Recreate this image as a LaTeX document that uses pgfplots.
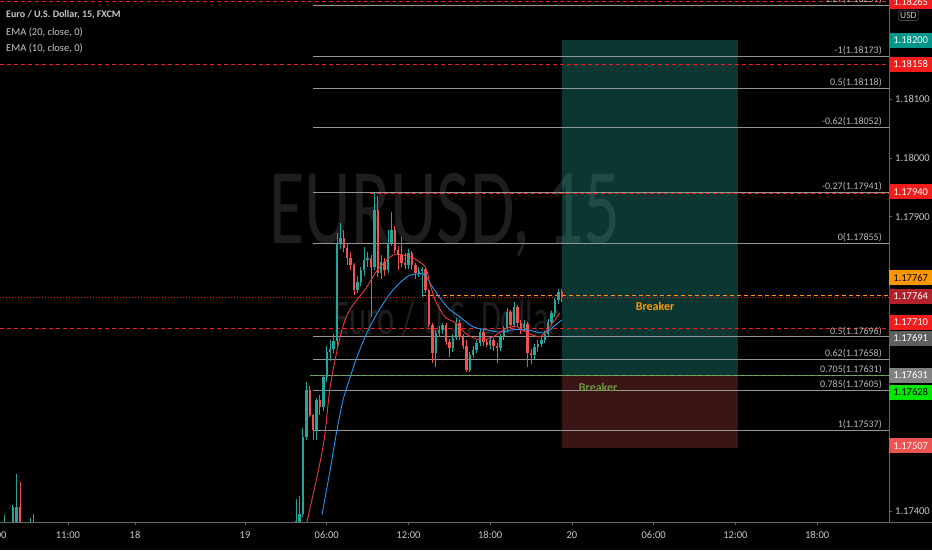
\documentclass[border=0pt]{standalone}
\usepackage{pgfplots}
\pgfplotsset{compat=1.18}
\usepackage{pgfplotstable}
\usepackage{fontspec}
\setmainfont{Carlito}

\definecolor{upc}{RGB}{38,166,154}
\definecolor{dnc}{RGB}{239,83,80}
\definecolor{ema10}{RGB}{235,60,60}
\definecolor{ema20}{RGB}{33,150,243}
\definecolor{fibc}{RGB}{150,150,150}
\definecolor{fibtxt}{RGB}{185,185,185}
\definecolor{tvred}{RGB}{242,28,28}
\definecolor{tvdred}{RGB}{178,34,44}
\definecolor{tvcoral}{RGB}{240,82,82}
\definecolor{tvteal}{RGB}{0,150,136}
\definecolor{tvorange}{RGB}{255,152,0}
\definecolor{tvgreen}{RGB}{0,230,0}
\definecolor{tvgray}{RGB}{95,95,95}
\definecolor{tvlgray}{RGB}{130,130,130}
\definecolor{brkgreen}{RGB}{110,150,70}
\definecolor{wm}{RGB}{30,30,32}
\definecolor{txt}{RGB}{200,200,200}
\definecolor{axisc}{RGB}{105,105,105}

% prices are in units of 0.00001 above 1.17000 (1200 = 1.18200)
% x is the 15-minute bar, counted from 19 00:00
\pgfplotstableread{
b o h l c
-70.5 375 393 360 378
-68.2 360 410 350 407
-67.1 365 463 350 407
-62.9 370 388 360 375
15 378 421 370 384
16 378 426 372 395
17 395 541 390 526
18 526 620 520 606
21 538 592 521 589
23 577 632 570 628
24 628 680 620 670
25 670 690 655 675
26 675 700 668 689
27 689 872 680 855
28 855 889 845 864
33 776 800 770 789
34 789 815 783 809
35 809 849 800 826
36 826 840 815 830
38 815 940 810 911
40 804 835 795 823
42 809 877 805 855
43 855 908 850 877
48 818 845 812 838
51 804 815 798 808
52 808 815 764 812
56 669 708 645 703
57 703 715 695 707
58 707 720 700 716
61 677 700 670 694
62 694 728 690 720
66 640 670 636 665
67 665 680 660 674
68 674 690 668 686
69 686 710 680 704
72 683 695 675 690
75 677 700 672 696
76 696 715 690 711
77 711 745 705 738
79 716 755 712 747
82 711 724 705 718
85 665 684 658 679
86 679 690 670 684
87 684 696 678 691
88 691 706 686 701
89 701 726 697 721
90 721 740 716 736
91 736 762 730 758
92 758 778 752 772
}\upbars

\pgfplotstableread{
b o h l c
-66.0 407 450 350 360
-62.0 375 395 365 370
19 606 612 560 563
20 563 565 521 538
22 589 598 563 577
29 864 877 840 847
30 847 855 818 830
31 830 840 810 818
32 818 822 767 776
37 830 835 730 815
39 911 935 798 804
41 823 830 800 809
44 877 885 838 843
45 843 850 810 835
46 835 865 815 822
47 822 838 812 818
49 838 842 810 818
50 818 822 795 804
53 812 814 770 775
54 775 778 712 716
55 716 720 652 669
59 716 720 682 687
60 687 692 662 677
63 720 725 690 696
64 696 700 675 680
65 680 690 636 640
70 704 708 680 687
71 687 692 678 683
73 690 694 672 680
74 680 685 652 677
78 738 742 710 716
80 747 750 712 720
81 720 725 700 711
83 718 722 645 669
84 669 675 650 665
93 772 777 756 764
}\downbars

\begin{document}
\begin{tikzpicture}[
    fib/.style={fibc, line width=0.8pt},
    rdash/.style={tvred, line width=0.8pt, dash pattern=on 4pt off 3pt},
    fibl/.style={anchor=south east, inner sep=1.2pt, text=fibtxt, font=\fontsize{10}{11}\selectfont},
    plab/.style={anchor=west, inner sep=0pt, minimum width=43pt, minimum height=15pt, text=white, font=\fontsize{10.5}{12}\selectfont},
    tlab/.style={anchor=west, inner sep=0pt, text=txt, xshift=6pt, font=\fontsize{10.5}{12}\selectfont}
]
\fill[black] (0,0) rectangle (932pt,550pt);

% watermark
\node[text=wm, font=\fontsize{108}{110}\selectfont, xscale=0.67] at (445pt,335pt) {EURUSD, 15};
\node[text=wm, font=\fontsize{50}{52}\selectfont, xscale=0.65] at (447pt,232pt) {Euro / U.S. Dollar};

\begin{axis}[
    at={(0pt,28pt)}, anchor=south west,
    scale only axis, width=889pt, height=522pt,
    xmin=-71.95, xmax=189.1, ymin=381.6, ymax=1268,
    axis x line*=bottom, axis y line*=right,
    axis line style={draw=axisc, line width=0.8pt},
    ytick=\empty,
    xtick={-52,-32.3,0,24,48,72,96,120,144,168},
    xticklabels={11:00,18,19,06:00,12:00,18:00,20,06:00,12:00,18:00},
    xticklabel style={text=txt, font=\fontsize{10.5}{12}\selectfont, yshift=-3pt},
    major tick length=3pt, tick align=outside,
    every tick/.style={draw=axisc, line width=0.6pt},
    clip mode=individual,
]
% position tool boxes
\addplot[fill=upc, fill opacity=0.33, draw=none] coordinates {(93.1,631) (144.8,631) (144.8,1200) (93.1,1200)} -- cycle;
\addplot[fill=dnc, fill opacity=0.25, draw=none] coordinates {(93.1,507) (144.8,507) (144.8,631) (93.1,631)} -- cycle;

% fibonacci levels
\addplot[fib] coordinates {(20,1259) (189.1,1259)};
\addplot[fib] coordinates {(20,1173) (189.1,1173)};
\addplot[fib] coordinates {(20,1118) (189.1,1118)};
\addplot[fib] coordinates {(20,1052) (189.1,1052)};
\addplot[fib] coordinates {(20,941) (189.1,941)};
\addplot[fib] coordinates {(20,855) (189.1,855)};
\addplot[fib] coordinates {(20,696) (189.1,696)};
\addplot[fib] coordinates {(20,658) (189.1,658)};
\addplot[fib] coordinates {(20,631) (189.1,631)};
\addplot[fib] coordinates {(20,605) (189.1,605)};
\addplot[fib] coordinates {(20,537) (189.1,537)};

% horizontal levels
\addplot[rdash] coordinates {(-71.95,1265) (189.1,1265)};
\addplot[rdash] coordinates {(-71.95,1158) (189.1,1158)};
\addplot[rdash] coordinates {(-71.95,710) (189.1,710)};
\addplot[rdash] coordinates {(36.7,940) (189.1,940)};
\addplot[tvred, line width=0.5pt, dash pattern=on 1pt off 2pt] coordinates {(-71.95,764) (189.1,764)};
\addplot[tvorange, line width=1pt, dash pattern=on 4pt off 3pt] coordinates {(52,767) (189.1,767)};
\addplot[brkgreen!80!tvgreen, line width=0.9pt, dash pattern=on 4pt off 3pt] coordinates {(19,631) (189.1,631)};

% wicks
\addplot[draw=none, mark=none, error bars/.cd, y dir=plus, y explicit, error mark=none,
  error bar style={draw=upc, line width=0.9pt}]
  table[x=b, y=l, y error plus expr=\thisrow{h}-\thisrow{l}] {\upbars};
\addplot[draw=none, mark=none, error bars/.cd, y dir=plus, y explicit, error mark=none,
  error bar style={draw=dnc, line width=0.9pt}]
  table[x=b, y=l, y error plus expr=\thisrow{h}-\thisrow{l}] {\downbars};
% bodies
\addplot[draw=none, mark=none, error bars/.cd, y dir=plus, y explicit, error mark=none,
  error bar style={draw=upc, line width=2.4pt}]
  table[x=b, y=o, y error plus expr=\thisrow{c}-\thisrow{o}] {\upbars};
\addplot[draw=none, mark=none, error bars/.cd, y dir=plus, y explicit, error mark=none,
  error bar style={draw=dnc, line width=2.4pt}]
  table[x=b, y=c, y error plus expr=\thisrow{o}-\thisrow{c}] {\downbars};

% EMA 20
\addplot[ema20, line width=0.9pt, smooth] coordinates {
(22.6,394) (25.0,470) (27.0,538) (28.8,589) (30.8,626) (32.9,662) (35.8,703)
(39.4,742) (43.5,776) (47.6,798) (50.5,803) (52.9,801) (55.2,779) (59.3,747)
(63.1,730) (67.0,713) (71.1,708) (74.9,704) (78.7,708) (82.8,708) (86.6,703)
(88.7,704) (90.5,713) (93.1,725)};
% EMA 10
\addplot[ema10, line width=0.9pt, smooth] coordinates {
(18.2,382) (22.9,509) (25.0,611) (27.9,696) (30.2,736) (32.9,759) (35.8,781)
(38.2,804) (39.6,815) (43.5,835) (46.4,835) (49.3,830) (52.9,815) (54.3,787)
(55.8,759) (58.7,730) (61.7,720) (65.2,700) (69.0,691) (72.8,696) (76.9,711)
(79.9,713) (82.8,703) (86.6,696) (88.7,708) (90.5,721) (92.5,737)};

% fib labels
\node[fibl] at (axis cs:187.4,1259) {-1.27(1.18259)};
\node[fibl] at (axis cs:187.4,1173) {-1(1.18173)};
\node[fibl] at (axis cs:187.4,1118) {0.5(1.18118)};
\node[fibl] at (axis cs:187.4,1052) {-0.62(1.18052)};
\node[fibl] at (axis cs:187.4,941) {-0.27(1.17941)};
\node[fibl] at (axis cs:187.4,855) {0(1.17855)};
\node[fibl] at (axis cs:187.4,696) {0.5(1.17696)};
\node[fibl] at (axis cs:187.4,658) {0.62(1.17658)};
\node[fibl] at (axis cs:187.4,631) {0.705(1.17631)};
\node[fibl] at (axis cs:187.4,605) {0.785(1.17605)};
\node[fibl] at (axis cs:187.4,537) {1(1.17537)};

% breaker texts
\node[text=tvorange, font=\bfseries\fontsize{12}{13}\selectfont] at (axis cs:120.4,748) {Breaker};
\node[text=brkgreen, font=\bfseries\fontsize{12}{13}\selectfont] at (axis cs:103.7,611) {Breaker};

% price scale
\node[tlab] at (axis cs:189.1,1100) {1.18100};
\node[tlab] at (axis cs:189.1,1000) {1.18000};
\node[tlab] at (axis cs:189.1,900) {1.17900};
\node[tlab] at (axis cs:189.1,400) {1.17400};
\draw[axisc, line width=0.6pt] (axis cs:189.1,1100) -- (axis cs:190,1100);
\draw[axisc, line width=0.6pt] (axis cs:189.1,1000) -- (axis cs:190,1000);
\draw[axisc, line width=0.6pt] (axis cs:189.1,900) -- (axis cs:190,900);
\draw[axisc, line width=0.6pt] (axis cs:189.1,400) -- (axis cs:190,400);
\node[plab, fill=tvred] at (axis cs:189.1,1265) {1.18265};
\node[plab, fill=tvteal] at (axis cs:189.1,1200) {1.18200};
\node[plab, fill=tvred] at (axis cs:189.1,1159) {1.18158};
\node[plab, fill=tvred] at (axis cs:189.1,942) {1.17940};
\node[plab, fill=tvorange, text=black] at (axis cs:189.1,796) {1.17767};
\node[plab, fill=tvdred] at (axis cs:189.1,765) {1.17764};
\node[plab, fill=tvred] at (axis cs:189.1,721) {1.17710};
\node[plab, fill=tvgray] at (axis cs:189.1,694) {1.17691};
\node[plab, fill=tvlgray] at (axis cs:189.1,631) {1.17631};
\node[plab, fill=tvgreen, text=black] at (axis cs:189.1,602) {1.17628};
\node[plab, fill=tvcoral] at (axis cs:189.1,511) {1.17507};
\node[draw=axisc, rounded corners=2pt, text=txt, inner sep=2pt, font=\fontsize{9.5}{10}\selectfont,
      anchor=west, xshift=9pt] at (axis cs:189.1,1242) {USD};
% cut-off first time label
\node[text=txt, font=\fontsize{10.5}{12}\selectfont, anchor=north, yshift=-6pt] at (axis cs:-73.6,381.6) {05:00};
\end{axis}

\draw[axisc, line width=0.8pt] (0,28pt) -- (932pt,28pt);

% legend
\node[anchor=west, text=txt, font=\bfseries\fontsize{10}{12}\selectfont, inner sep=0pt] at (6pt,535pt) {Euro / U.S. Dollar, 15, FXCM};
\node[anchor=west, text=txt, font=\fontsize{10.5}{12}\selectfont, inner sep=0pt] at (6pt,518pt) {EMA (20, close, 0)};
\node[anchor=west, text=txt, font=\fontsize{10.5}{12}\selectfont, inner sep=0pt] at (6pt,502pt) {EMA (10, close, 0)};

\pgfresetboundingbox
\path (0,0) rectangle (932pt,550pt);
\end{tikzpicture}
\end{document}
